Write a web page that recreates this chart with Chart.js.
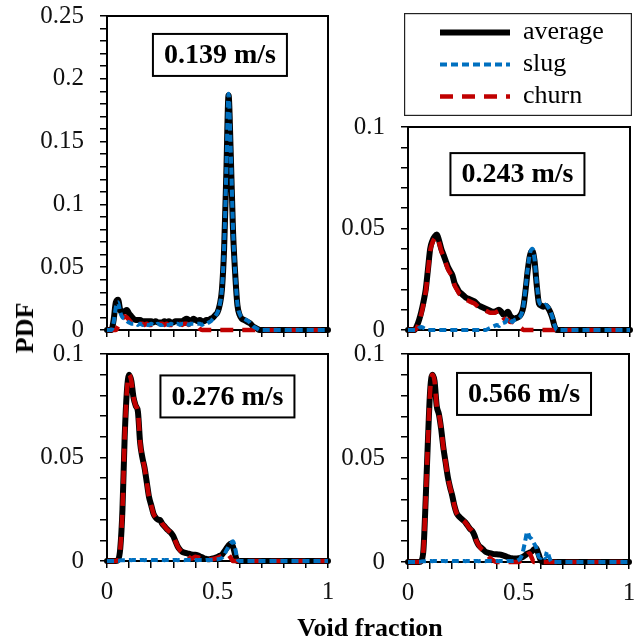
<!DOCTYPE html>
<html>
<head>
<meta charset="utf-8">
<script src="https://cdn.jsdelivr.net/npm/chart.js@4/dist/chart.umd.min.js"></script>
<style>
  body { margin: 0; width: 634px; height: 641px; position: relative; overflow: hidden; background: #fff; }
  canvas { position: absolute; }
  .axis-title { position: absolute; font-family: 'Liberation Serif', serif; font-weight: bold; font-size: 26px; color: #000; white-space: nowrap; }
</style>
</head>
<body>
<canvas id="legend" width="460" height="103" style="left:404px; top:13px"></canvas>
<canvas id="p139" width="305" height="345" style="left:30px; top:0px"></canvas>
<canvas id="p243" width="299" height="235" style="left:335px; top:110px"></canvas>
<canvas id="p276" width="305" height="306" style="left:30px; top:335px"></canvas>
<canvas id="p566" width="302" height="306" style="left:335px; top:335px"></canvas>
<div class="axis-title" style="left:25px; top:328px; transform: translate(-50%, -50%) rotate(-90deg);">PDF</div>
<div class="axis-title" style="left:370px; top:628px; transform: translate(-50%, -50%);">Void fraction</div>
<script>
// void fraction bins (0.00 - 0.70 every 0.01, then 1.00)
const voidFraction = [
  0.00, 0.01, 0.02, 0.03, 0.04, 0.05, 0.06, 0.07, 0.08, 0.09,
  0.10, 0.11, 0.12, 0.13, 0.14, 0.15, 0.16, 0.17, 0.18, 0.19,
  0.20, 0.21, 0.22, 0.23, 0.24, 0.25, 0.26, 0.27, 0.28, 0.29,
  0.30, 0.31, 0.32, 0.33, 0.34, 0.35, 0.36, 0.37, 0.38, 0.39,
  0.40, 0.41, 0.42, 0.43, 0.44, 0.45, 0.46, 0.47, 0.48, 0.49,
  0.50, 0.51, 0.52, 0.53, 0.54, 0.55, 0.56, 0.57, 0.58, 0.59,
  0.60, 0.61, 0.62, 0.63, 0.64, 0.65, 0.66, 0.67, 0.68, 0.69,
  0.70, 1.00
];

const seriesNames = ['average', 'slug', 'churn'];
const speeds = ['0.139 m/s', '0.243 m/s', '0.276 m/s', '0.566 m/s'];

// 0.139 m/s
const avg139 = [
  0, 0, 0, 0.008, 0.022, 0.024, 0.016, 0.014, 0.015, 0.016,
  0.013, 0.011, 0.009, 0.008, 0.008, 0.008, 0.007, 0.007, 0.007, 0.007,
  0.007, 0.006, 0.007, 0.006, 0.006, 0.006, 0.007, 0.006, 0.007, 0.006,
  0.006, 0.007, 0.007, 0.007, 0.007, 0.008, 0.009, 0.008, 0.007, 0.009,
  0.008, 0.007, 0.008, 0.007, 0.007, 0.008, 0.008, 0.009, 0.010, 0.012,
  0.014, 0.020, 0.032, 0.065, 0.125, 0.187, 0.140, 0.080, 0.045, 0.020,
  0.012, 0.009, 0.008, 0.007, 0.006, 0.005, 0.003, 0.002, 0.001, 0,
  0, 0
];
const slug139 = [
  0, 0, 0, 0.006, 0.018, 0.022, 0.014, 0.010, 0.009, 0.007,
  0.006, 0.005, 0.005, 0.005, 0.004, 0.005, 0.004, 0.005, 0.004, 0.004,
  0.005, 0.004, 0.004, 0.005, 0.004, 0.004, 0.005, 0.004, 0.004, 0.005,
  0.004, 0.005, 0.005, 0.004, 0.005, 0.005, 0.005, 0.004, 0.005, 0.005,
  0.005, 0.005, 0.005, 0.004, 0.005, 0.005, 0.006, 0.007, 0.009, 0.011,
  0.014, 0.020, 0.033, 0.066, 0.127, 0.188, 0.142, 0.082, 0.046, 0.021,
  0.013, 0.010, 0.009, 0.008, 0.007, 0.005, 0.003, 0.002, 0.001, 0,
  0, 0
];
const churn139 = [
  0, 0, 0, 0, 0, 0.003, 0.006, 0.009, 0.011, 0.010,
  0.008, 0.006, 0.005, 0.005, 0.004, 0.005, 0.005, 0.004, 0.005, 0.004,
  0.004, 0.005, 0.004, 0.004, 0.005, 0.005, 0.004, 0.005, 0.004, 0.004,
  0.005, 0.004, 0.004, 0.005, 0.004, 0.005, 0.005, 0.004, 0.005, 0.005,
  0.004, 0.003, 0.001, 0, 0, 0, 0, 0, 0, 0,
  0, 0, 0, 0, 0, 0, 0, 0, 0, 0,
  0, 0, 0, 0, 0, 0, 0, 0, 0, 0,
  0, 0
];

// 0.243 m/s
const avg243 = [
  0, 0, 0, 0, 0.002, 0.005, 0.009, 0.014, 0.020, 0.030,
  0.040, 0.044, 0.046, 0.047, 0.044, 0.040, 0.037, 0.034, 0.031, 0.029,
  0.027, 0.023, 0.021, 0.019, 0.018, 0.017, 0.016, 0.0155, 0.015, 0.0145,
  0.014, 0.013, 0.012, 0.0115, 0.011, 0.0105, 0.010, 0.0095, 0.009, 0.009,
  0.0095, 0.010, 0.009, 0.0075, 0.008, 0.009, 0.007, 0.006, 0.0055, 0.006,
  0.0065, 0.008, 0.0115, 0.020, 0.030, 0.037, 0.039, 0.034, 0.022, 0.013,
  0.012, 0.0115, 0.012, 0.011, 0.009, 0.006, 0.002, 0, 0, 0,
  0, 0
];
const slug243 = [
  0, 0, 0, 0, 0, 0.001, 0.0015, 0.001, 0.0005, 0,
  0, 0, 0, 0, 0, 0, 0, 0, 0, 0,
  0, 0, 0, 0, 0, 0, 0, 0, 0, 0,
  0, 0, 0, 0, 0, 0, 0.0005, 0.001, 0.0015, 0.002,
  0.0025, 0.002, 0.003, 0.0035, 0.004, 0.006, 0.005, 0.004, 0.005, 0.0055,
  0.006, 0.0075, 0.012, 0.021, 0.031, 0.038, 0.040, 0.035, 0.023, 0.014,
  0.0125, 0.012, 0.0125, 0.0115, 0.0095, 0.0065, 0.0025, 0, 0, 0,
  0, 0
];
const churn243 = [
  0, 0, 0, 0, 0.001, 0.004, 0.008, 0.013, 0.019, 0.029,
  0.039, 0.043, 0.045, 0.046, 0.043, 0.039, 0.036, 0.033, 0.030, 0.028,
  0.026, 0.022, 0.020, 0.018, 0.017, 0.016, 0.015, 0.0145, 0.014, 0.0135,
  0.013, 0.012, 0.011, 0.0105, 0.010, 0.0095, 0.009, 0.0085, 0.0085, 0.0085,
  0.009, 0.0095, 0.008, 0.006, 0.005, 0.005, 0.004, 0.004, 0.0035, 0.003,
  0.002, 0.001, 0, 0, 0, 0, 0, 0, 0, 0,
  0, 0, 0, 0, 0, 0, 0, 0, 0, 0,
  0, 0
];

// 0.276 m/s
const avg276 = [
  0, 0, 0, 0, 0, 0.0005, 0.006, 0.025, 0.060, 0.082,
  0.090, 0.087, 0.079, 0.075, 0.072, 0.057, 0.050, 0.045, 0.038, 0.031,
  0.027, 0.023, 0.021, 0.020, 0.0198, 0.018, 0.0168, 0.0155, 0.0145, 0.0135,
  0.012, 0.0095, 0.007, 0.0055, 0.0045, 0.004, 0.0038, 0.0035, 0.0032, 0.003,
  0.003, 0.0028, 0.0022, 0.0018, 0.0012, 0.001, 0.0008, 0.001, 0.0012, 0.0015,
  0.002, 0.0025, 0.003, 0.0045, 0.006, 0.0075, 0.0085, 0.007, 0.003, 0,
  0, 0, 0, 0, 0, 0, 0, 0, 0, 0,
  0, 0
];
const slug276 = [
  0, 0, 0, 0, 0, 0, 0.0003, 0.0004, 0.0004, 0.0005,
  0.0005, 0.0004, 0.0005, 0.0005, 0.0004, 0.0005, 0.0005, 0.0004, 0.0005, 0.0005,
  0.0004, 0.0005, 0.0005, 0.0004, 0.0005, 0.0005, 0.0004, 0.0005, 0.0005, 0.0004,
  0.0005, 0.0005, 0.0004, 0.0005, 0.0005, 0.0004, 0.0005, 0.0005, 0.0004, 0.0005,
  0.0005, 0.0004, 0.0005, 0.0005, 0.0004, 0.0005, 0.0005, 0.0005, 0.0006, 0.0007,
  0.0008, 0.001, 0.0015, 0.003, 0.005, 0.007, 0.0085, 0.0095, 0.006, 0.001,
  0, 0, 0, 0, 0, 0, 0, 0, 0, 0,
  0, 0
];
const churn276 = [
  0, 0, 0, 0, 0, 0.0005, 0.006, 0.025, 0.060, 0.082,
  0.090, 0.087, 0.079, 0.075, 0.072, 0.057, 0.050, 0.045, 0.038, 0.031,
  0.027, 0.023, 0.021, 0.020, 0.0198, 0.018, 0.0168, 0.0155, 0.0145, 0.0135,
  0.012, 0.0095, 0.007, 0.0053, 0.0042, 0.0035, 0.003, 0.002, 0.0012, 0.0015,
  0.002, 0.0018, 0.0015, 0.0012, 0.001, 0.0008, 0.0007, 0.0008, 0.001, 0.0012,
  0.0015, 0.002, 0.0025, 0.003, 0.0035, 0.003, 0.0015, 0, 0, 0,
  0, 0, 0, 0, 0, 0, 0, 0, 0, 0,
  0, 0
];

// 0.566 m/s
const avg566 = [
  0, 0, 0, 0, 0, 0, 0.0005, 0.006, 0.030, 0.058,
  0.082, 0.090, 0.087, 0.075, 0.071, 0.064, 0.055, 0.048, 0.041, 0.036,
  0.032, 0.027, 0.0235, 0.022, 0.021, 0.020, 0.019, 0.0175, 0.016, 0.015,
  0.013, 0.010, 0.008, 0.007, 0.006, 0.005, 0.0045, 0.0042, 0.004, 0.0038,
  0.0037, 0.0036, 0.0035, 0.0032, 0.0028, 0.0024, 0.002, 0.0018, 0.0017, 0.0017,
  0.0018, 0.002, 0.0025, 0.0032, 0.004, 0.0045, 0.005, 0.006, 0.0066, 0.004,
  0.001, 0, 0, 0, 0, 0, 0, 0, 0, 0,
  0, 0
];
const slug566 = [
  0, 0, 0, 0, 0, 0, 0.0003, 0.0004, 0.0004, 0.0005,
  0.0005, 0.0004, 0.0005, 0.0005, 0.0004, 0.0005, 0.0005, 0.0004, 0.0005, 0.0005,
  0.0004, 0.0005, 0.0005, 0.0004, 0.0005, 0.0005, 0.0004, 0.0005, 0.0005, 0.0004,
  0.0005, 0.0005, 0.0004, 0.0005, 0.0005, 0.0004, 0.0005, 0.0005, 0.0004, 0.0005,
  0.0005, 0.0004, 0.0005, 0.0005, 0.0004, 0.0005, 0.0005, 0.0004, 0.0005, 0.0005,
  0.001, 0.002, 0.005, 0.010, 0.0145, 0.012, 0.011, 0.009, 0.007, 0.003,
  0.002, 0.003, 0.002, 0.005, 0.002, 0, 0, 0, 0, 0,
  0, 0
];
const churn566 = [
  0, 0, 0, 0, 0, 0, 0.0005, 0.006, 0.030, 0.058,
  0.082, 0.090, 0.087, 0.075, 0.071, 0.064, 0.055, 0.048, 0.041, 0.036,
  0.032, 0.027, 0.0235, 0.022, 0.021, 0.020, 0.019, 0.0175, 0.016, 0.015,
  0.013, 0.010, 0.008, 0.0065, 0.0055, 0.004, 0.003, 0.002, 0.0012, 0.0005,
  0, 0, 0, 0, 0, 0, 0, 0, 0, 0,
  0, 0.0005, 0.001, 0.002, 0.0035, 0.0042, 0.002, 0, 0, 0,
  0, 0, 0, 0, 0, 0, 0, 0, 0, 0,
  0, 0
];

const seriesStyle = {
  average: { borderColor: '#000000', borderWidth: 6, borderDash: [], borderCapStyle: 'round' },
  slug: { borderColor: '#0070C0', borderWidth: 4, borderDash: [7, 4], borderCapStyle: 'butt' },
  churn: { borderColor: '#C00000', borderWidth: 4.5, borderDash: [13, 9], borderCapStyle: 'butt' }
};
// black underneath, blue on top
const drawOrder = { average: 3, churn: 2, slug: 1 };

const serif = 'Liberation Serif';

// frame round the plot area
const frame = {
  id: 'frame',
  beforeDatasetsDraw(chart) {
    const { ctx, chartArea: a } = chart;
    ctx.save();
    ctx.strokeStyle = '#000';
    ctx.lineWidth = 2;
    ctx.strokeRect(a.left, a.top, a.right - a.left, a.bottom - a.top);
    ctx.restore();
  }
};

// boxed velocity label inside each panel
const speedBox = {
  id: 'speedBox',
  afterDatasetsDraw(chart, args, opts) {
    if (!opts.text) return;
    const { ctx, scales } = chart;
    const cx = scales.x.getPixelForValue(opts.x);
    const cy = scales.y.getPixelForValue(opts.y);
    ctx.save();
    ctx.font = 'bold 28px "' + serif + '"';
    const w = Math.round(ctx.measureText(opts.text).width + 22);
    const h = 42;
    ctx.fillStyle = '#fff';
    ctx.fillRect(cx - w / 2, cy - h / 2, w, h);
    ctx.strokeStyle = '#000';
    ctx.lineWidth = 2;
    ctx.strokeRect(cx - w / 2, cy - h / 2, w, h);
    ctx.fillStyle = '#000';
    ctx.textAlign = 'center';
    ctx.textBaseline = 'middle';
    ctx.fillText(opts.text, cx, cy + 1);
    ctx.restore();
  }
};

const panels = [
  { id: 'p139', speed: speeds[0], yMax: 0.25, series: [avg139, slug139, churn139], showX: false,
    yWidth: 77, xHeight: 15, padding: { top: 16, right: 7 }, box: { x: 0.511, y: 0.219 } },
  { id: 'p243', speed: speeds[1], yMax: 0.1, series: [avg243, slug243, churn243], showX: false,
    yWidth: 73, xHeight: 15, padding: { top: 17, right: 4 }, box: { x: 0.493, y: 0.0768 } },
  { id: 'p276', speed: speeds[2], yMax: 0.1, series: [avg276, slug276, churn276], showX: true,
    yWidth: 77, xHeight: 80, padding: { top: 19, right: 7 }, box: { x: 0.545, y: 0.0795 } },
  { id: 'p566', speed: speeds[3], yMax: 0.1, series: [avg566, slug566, churn566], showX: true,
    yWidth: 73, xHeight: 79, padding: { top: 19, right: 8 }, box: { x: 0.525, y: 0.0808 } }
];

const tickGrid = { drawOnChartArea: false, drawTicks: true, tickLength: 7, color: '#000', lineWidth: 1.5 };

// fixed axis sizes, no extra label padding, so the plot areas line up
const fixSize = (s, key, size) => {
  s[key] = size;
  s.paddingTop = 0; s.paddingBottom = 0; s.paddingLeft = 0; s.paddingRight = 0;
};

panels.forEach(p => {
  const datasets = seriesNames.map((name, k) => Object.assign({
    label: name,
    data: voidFraction.map((x, i) => ({ x: x, y: p.series[k][i] })),
    pointRadius: 0,
    fill: false,
    tension: 0.3,
    cubicInterpolationMode: 'monotone',
    clip: false,
    order: drawOrder[name]
  }, seriesStyle[name]));

  new Chart(document.getElementById(p.id), {
    type: 'line',
    data: { datasets: datasets },
    options: {
      responsive: false,
      animation: false,
      devicePixelRatio: 1,
      layout: { padding: { top: p.padding.top, right: p.padding.right, bottom: 0, left: 0 } },
      plugins: {
        legend: { display: false },
        tooltip: { enabled: false },
        speedBox: { text: p.speed, x: p.box.x, y: p.box.y }
      },
      scales: {
        x: {
          type: 'linear', min: 0, max: 1,
          border: { display: false },
          grid: tickGrid,
          ticks: {
            stepSize: 0.1, autoSkip: false, maxRotation: 0, padding: 9, color: '#111',
            font: { family: serif, size: 25 },
            callback: v => (p.showX && Math.round(v * 10) % 5 === 0 ? String(+v.toFixed(1)) : '')
          },
          afterFit: s => fixSize(s, 'height', p.xHeight)
        },
        y: {
          min: 0, max: p.yMax,
          border: { display: false },
          grid: tickGrid,
          ticks: {
            stepSize: 0.01, maxTicksLimit: 40, autoSkip: false, padding: 16, color: '#111',
            font: { family: serif, size: 25 },
            callback: v => (Math.round(v * 100) % 5 === 0 ? String(+v.toFixed(2)) : '')
          },
          afterFit: s => fixSize(s, 'width', p.yWidth)
        }
      }
    },
    plugins: [frame, speedBox]
  });
});

// legend box above the 0.243 m/s panel
const outline = {
  id: 'outline',
  afterDraw(chart, args, opts) {
    const ctx = chart.ctx;
    ctx.save();
    ctx.strokeStyle = '#222';
    ctx.lineWidth = 1.2;
    ctx.strokeRect(0.6, 0.6, opts.width - 1.2, opts.height - 1.2);
    ctx.restore();
  }
};

new Chart(document.getElementById('legend'), {
  type: 'line',
  data: {
    datasets: seriesNames.map(name => Object.assign({ label: name, data: [] }, seriesStyle[name]))
  },
  options: {
    responsive: false,
    animation: false,
    devicePixelRatio: 1,
    layout: { padding: { left: 30, top: 0, bottom: 0, right: 0 } },
    scales: { x: { display: false }, y: { display: false } },
    plugins: {
      tooltip: { enabled: false },
      outline: { width: 228, height: 103 },
      legend: {
        position: 'left',
        align: 'center',
        labels: {
          usePointStyle: true,
          pointStyle: 'line',
          pointStyleWidth: 70,
          padding: 6,
          color: '#000',
          font: { family: serif, size: 26 },
          // keep the dash pattern and width of each line in its sample
          generateLabels: chart => Chart.defaults.plugins.legend.labels.generateLabels(chart).map(item => {
            const ds = chart.data.datasets[item.datasetIndex];
            return Object.assign(item, {
              strokeStyle: ds.borderColor,
              lineWidth: ds.borderWidth,
              lineDash: ds.borderDash,
              lineCap: 'butt'
            });
          })
        }
      }
    }
  },
  plugins: [outline]
});
</script>
</body>
</html>
